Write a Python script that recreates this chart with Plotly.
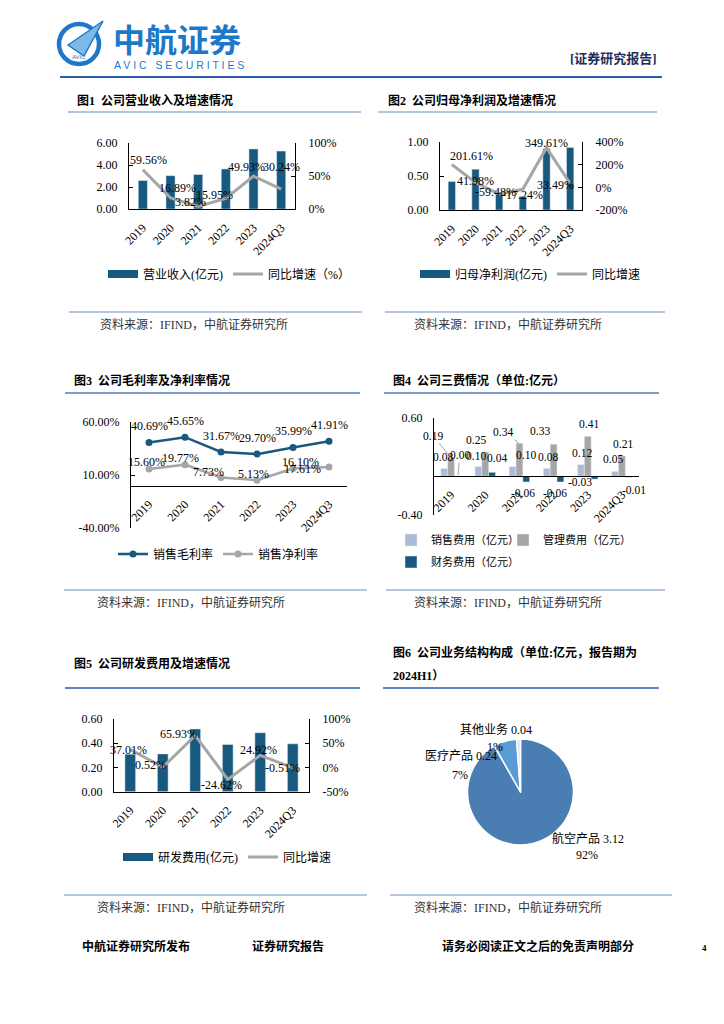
import plotly.graph_objects as go

W, H = 724, 1024
OFF = 8  # page body margin compensation


def fx(px):
    return (px - OFF) / W


def fy(py):
    return 1 - (py - OFF) / H


FONT = "Liberation Serif, Noto Sans CJK SC, serif"
CJK = "Noto Sans CJK SC, sans-serif"

DARK = "#185A7F"
GRAY = "#A6A6A6"
LIGHT = "#ADBCD4"
LOGO = "#1E78C8"

# ---------------- data ----------------
years = ["2019", "2020", "2021", "2022", "2023", "2024Q3"]

revenue = [2.59, 3.03, 3.14, 3.64, 5.46, 5.27]
revenue_growth = [59.56, 16.89, 3.82, 15.95, 49.93, 30.24]

net_profit = [0.42, 0.60, 0.24, 0.20, 0.90, 0.92]
net_profit_growth = [201.61, 41.98, -59.48, -17.24, 349.61, 33.49]

gross_margin = [40.69, 45.65, 31.67, 29.70, 35.99, 41.91]
net_margin = [15.60, 19.77, 7.73, 5.13, 16.10, 17.61]

selling_exp = [0.08, 0.10, 0.10, 0.08, 0.12, 0.05]
admin_exp = [0.19, 0.25, 0.34, 0.33, 0.41, 0.21]
finance_exp = [0.00, 0.04, -0.06, -0.06, -0.03, -0.01]

rd_exp = [0.31, 0.312, 0.518, 0.39, 0.487, 0.395]
rd_growth = [37.01, 0.52, 65.93, -24.62, 24.92, -0.51]

segments = ["航空产品", "医疗产品", "其他业务"]
segment_values = [3.12, 0.24, 0.04]

c1_left_vals = [0, 2, 4, 6]
c1_left_text = ["0.00", "2.00", "4.00", "6.00"]
c1_right_vals = [0, 50, 100]
c1_right_text = ["0%", "50%", "100%"]
c2_left_vals = [0, 0.5, 1]
c2_left_text = ["0.00", "0.50", "1.00"]
c2_right_vals = [-200, 0, 200, 400]
c2_right_text = ["-200%", "0%", "200%", "400%"]
c3_vals = [-40, 10, 60]
c3_text = ["-40.00%", "10.00%", "60.00%"]
c4_vals = [-0.4, 0.6]
c4_text = ["-0.40", "0.60"]
c5_left_vals = [0, 0.2, 0.4, 0.6]
c5_left_text = ["0.00", "0.20", "0.40", "0.60"]
c5_right_vals = [-50, 0, 50, 100]
c5_right_text = ["-50%", "0%", "50%", "100%"]

# ---------------- label offsets (style, px) ----------------
rev_shift = [(6, 10), (7, 10), (-8, 4), (-11, 3), (-7, 9), (0, 22)]
np_shift = [(20, 8), (0, 2), (-4, 2), (0, -6), (0, 5), (-15, -1)]
gm_shift = [(0, 16)] * 6
nm_shift = [(-3, 7), (-5, 7), (-13, 5), (-4, 6), (7, 7), (-27, -2)]
sell_shift = [(-1, 11), (-2, 11), (13, 12), (1, 11), (1, 12), (-2, 12)]
admin_shift = [(-18, 22), (-9, 12), (-16, 11), (-14, 13), (1, 12), (1, 12)]
fin_shift = [(2, 21), (5, 14), (-3, -11), (-5, -11), (-15, -3), (5, -13)]
admin_leader = [True, False, True, False, False, False]
fin_leader = [True, False, False, False, False, False]
no_leader = [False] * 6
rd_shift = [(-2, 0), (-12, 2), (-17, 2), (-6, -6), (-2, 5), (-10, 0)]
pie_label_pos = [(588, 838), (461, 756), (496, 729)]
pie_pct_pos = [(587, 855), (460, 775), (495, 747)]

fig = go.Figure()
annotations = []
shapes = []


def txt(x, y, text, size=12, xanchor="left", color="black", family=FONT, yanchor="middle"):
    annotations.append(dict(x=fx(x), y=fy(y), xref="paper", yref="paper", text=text,
                            showarrow=False, xanchor=xanchor, yanchor=yanchor,
                            font=dict(family=family, size=size, color=color)))


def hline(x0, x1, y, color, width=1.5):
    shapes.append(dict(type="line", xref="paper", yref="paper", x0=fx(x0), x1=fx(x1),
                       y0=fy(y), y1=fy(y), line=dict(color=color, width=width)))


def labels(xref, yref, xs, ys, texts, shifts, size=12, leaders=None):
    leaders = leaders or [False] * len(xs)
    for x, y, t, (dx, dy), ld in zip(xs, ys, texts, shifts, leaders):
        a = dict(x=x, y=y, xref=xref, yref=yref, text=t,
                 font=dict(family=FONT, size=size, color="black"))
        if ld:
            a.update(showarrow=True, arrowhead=0, arrowwidth=0.8, arrowcolor="#8C8C8C",
                     ax=dx, ay=-dy, standoff=1)
        else:
            a.update(showarrow=False, xshift=dx, yshift=dy)
        annotations.append(a)


pct = lambda v: f"{v:.2f}%"
idx = list(range(len(years)))

# ---------------- chart 1 ----------------
fig.add_trace(go.Bar(x=years, y=revenue, xaxis="x", yaxis="y", marker_color=DARK,
                     width=0.33, showlegend=False, name="营业收入(亿元)"))
fig.add_trace(go.Scatter(x=[None], y=[None], xaxis="x", yaxis="y", mode="lines",
                         line=dict(color=DARK, width=8), name="营业收入(亿元)", legend="legend"))
fig.add_trace(go.Scatter(x=years, y=revenue_growth, xaxis="x", yaxis="y2", mode="lines",
                         line=dict(color=GRAY, width=3), name="同比增速（%）", legend="legend"))
labels("x", "y2", idx, revenue_growth, [pct(v) for v in revenue_growth], rev_shift)

# ---------------- chart 2 ----------------
fig.add_trace(go.Bar(x=years, y=net_profit, xaxis="x2", yaxis="y3", marker_color=DARK,
                     width=0.31, showlegend=False, name="归母净利润(亿元)"))
fig.add_trace(go.Scatter(x=[None], y=[None], xaxis="x2", yaxis="y3", mode="lines",
                         line=dict(color=DARK, width=8), name="归母净利润(亿元)", legend="legend2"))
fig.add_trace(go.Scatter(x=years, y=net_profit_growth, xaxis="x2", yaxis="y4", mode="lines",
                         line=dict(color=GRAY, width=3), name="同比增速", legend="legend2"))
labels("x2", "y4", idx, net_profit_growth, [pct(v) for v in net_profit_growth], np_shift)

# ---------------- chart 3 ----------------
fig.add_trace(go.Scatter(x=years, y=gross_margin, xaxis="x3", yaxis="y5", mode="lines+markers",
                         line=dict(color=DARK, width=2.5), marker=dict(size=7, color=DARK),
                         name="销售毛利率", legend="legend3"))
fig.add_trace(go.Scatter(x=years, y=net_margin, xaxis="x3", yaxis="y5", mode="lines+markers",
                         line=dict(color=GRAY, width=2.5), marker=dict(size=7, color=GRAY),
                         name="销售净利率", legend="legend3"))
labels("x3", "y5", idx, gross_margin, [pct(v) for v in gross_margin], gm_shift)
labels("x3", "y5", idx, net_margin, [pct(v) for v in net_margin], nm_shift)

# ---------------- chart 4 ----------------
for vals, color, name, off, leg_id, sh, ld in [
    (selling_exp, LIGHT, "销售费用（亿元）", -0.3, "legend4", sell_shift, no_leader),
    (admin_exp, GRAY, "管理费用（亿元）", -0.1, "legend5", admin_shift, admin_leader),
    (finance_exp, DARK, "财务费用（亿元）", 0.1, "legend6", fin_shift, fin_leader),
]:
    fig.add_trace(go.Bar(x=years, y=vals, xaxis="x4", yaxis="y6", marker_color=color,
                         width=0.2, offset=off, name=name, legend=leg_id))
    labels("x4", "y6", [i + off + 0.1 for i in idx], vals,
           [f"{v:.2f}" for v in vals], sh, size=11.5, leaders=ld)

# ---------------- chart 5 ----------------
fig.add_trace(go.Bar(x=years, y=rd_exp, xaxis="x5", yaxis="y7", marker_color=DARK,
                     width=0.33, showlegend=False, name="研发费用(亿元)"))
fig.add_trace(go.Scatter(x=[None], y=[None], xaxis="x5", yaxis="y7", mode="lines",
                         line=dict(color=DARK, width=8), name="研发费用(亿元)", legend="legend7"))
fig.add_trace(go.Scatter(x=years, y=rd_growth, xaxis="x5", yaxis="y8", mode="lines",
                         line=dict(color=GRAY, width=3), name="同比增速", legend="legend7"))
labels("x5", "y8", idx, rd_growth, [pct(v) for v in rd_growth], rd_shift)

# ---------------- chart 6 (pie) ----------------
fig.add_trace(go.Pie(labels=segments, values=segment_values, sort=False, direction="clockwise",
                     rotation=0, textinfo="none", showlegend=False,
                     marker=dict(colors=["#4A7EB2", "#5B9BD5", "#D9E5F3"],
                                 line=dict(color="white", width=1.5)),
                     domain=dict(x=[fx(467.5), fx(573.5)], y=[fy(845), fy(739)])))
total = sum(segment_values)
for name, v, (lx, ly), (px, py) in zip(segments, segment_values, pie_label_pos, pie_pct_pos):
    txt(lx, ly, f"{name} {v:.2f}", size=12, xanchor="center")
    txt(px, py, f"{round(v / total * 100)}%", size=12, xanchor="center")

# ---------------- axes ----------------
tickfont = dict(family=FONT, size=12, color="black")
base_x = dict(type="category", showgrid=False, zeroline=False, showline=True, linecolor="black",
              linewidth=1, ticks="", tickangle=-45, tickfont=tickfont, range=[-0.5, 5.5],
              fixedrange=True, automargin=False, ticklabelstandoff=6)
base_y = dict(showgrid=False, zeroline=False, showline=True, linecolor="black", linewidth=1.2,
              ticks="inside", ticklen=4, tickcolor="black", tickfont=tickfont, fixedrange=True,
              automargin=False, ticklabelstandoff=8)
right_y = dict(base_y, ticklabelstandoff=10)

fig.update_layout(
    xaxis=dict(base_x, domain=[fx(129), fx(295)], anchor="y"),
    yaxis=dict(base_y, domain=[fy(209), fy(143)], range=[0, 6], tickvals=c1_left_vals,
               ticktext=c1_left_text, anchor="x"),
    yaxis2=dict(right_y, overlaying="y", side="right", anchor="x", range=[0, 100],
                tickvals=c1_right_vals, ticktext=c1_right_text),
    xaxis2=dict(base_x, domain=[fx(440), fx(582)], anchor="y3"),
    yaxis3=dict(base_y, domain=[fy(210), fy(142)], range=[0, 1], tickvals=c2_left_vals,
                ticktext=c2_left_text, anchor="x2"),
    yaxis4=dict(right_y, overlaying="y3", side="right", anchor="x2", range=[-200, 400],
                tickvals=c2_right_vals, ticktext=c2_right_text),
    xaxis3=dict(base_x, domain=[fx(131), fx(347)], anchor="free", position=fy(485.6)),
    yaxis5=dict(base_y, domain=[fy(528), fy(422)], range=[-40, 60], tickvals=c3_vals,
                ticktext=c3_text, anchor="x3"),
    xaxis4=dict(base_x, domain=[fx(434), fx(639)], anchor="free", position=fy(476.2)),
    yaxis6=dict(base_y, domain=[fy(515), fy(418)], range=[-0.4, 0.6], tickvals=c4_vals,
                ticktext=c4_text, anchor="x4"),
    xaxis5=dict(base_x, domain=[fx(114), fx(309)], anchor="y7"),
    yaxis7=dict(base_y, domain=[fy(791.7), fy(719)], range=[0, 0.6], tickvals=c5_left_vals,
                ticktext=c5_left_text, anchor="x5"),
    yaxis8=dict(right_y, overlaying="y7", side="right", anchor="x5", range=[-50, 100],
                tickvals=c5_right_vals, ticktext=c5_right_text),
)


def leg(x, y, size=12):
    return dict(orientation="h", x=fx(x), y=fy(y), xanchor="left", yanchor="middle",
                font=dict(family=FONT, size=size, color="black"), bgcolor="rgba(0,0,0,0)",
                itemwidth=30, itemclick=False, itemdoubleclick=False)


fig.update_layout(
    legend=leg(103, 274),
    legend2=leg(415, 274),
    legend3=leg(113, 554),
    legend4=leg(391, 540, 11),
    legend5=leg(503, 540, 11),
    legend6=leg(391, 562, 11),
    legend7=leg(118, 857),
)

# ---------------- page furniture ----------------
shapes.append(dict(type="circle", xref="paper", yref="paper", x0=fx(59), x1=fx(99),
                   y0=fy(64), y1=fy(24), line=dict(color=LOGO, width=4.5)))
shapes.append(dict(type="path", xref="paper", yref="paper",
                   path=f"M {fx(68)},{fy(45)} L {fx(103)},{fy(21)} L {fx(84)},{fy(56)} Z",
                   fillcolor="#7DB9E8", line=dict(color=LOGO, width=1.5)))
txt(79, 57, "AVIC", size=6, xanchor="center", color=LOGO, family="Liberation Sans")
txt(111, 38, "<b>中航证券</b>", size=32, color=LOGO, family=CJK)
txt(112, 65, "A V I C   S E C U R I T I E S", size=10.5, color=LOGO, family="Liberation Sans")
txt(659, 58, "<b>[证券研究报告]</b>", size=13, xanchor="right", color="#1C2E5A")
hline(60, 662, 77, "#2A5CAA", 1.8)

txt(75, 100, "<b>图1  公司营业收入及增速情况</b>")
hline(68, 361, 112, "#9AB0CF")
txt(386, 100, "<b>图2  公司归母净利润及增速情况</b>")
hline(378, 657, 112, "#9AB0CF")
txt(72, 380, "<b>图3  公司毛利率及净利率情况</b>")
hline(65, 360, 393, "#4F7DB8")
txt(391, 380, "<b>图4  公司三费情况（单位:亿元）</b>")
hline(384, 659, 393, "#4F7DB8")
txt(72, 663, "<b>图5  公司研发费用及增速情况</b>")
hline(65, 360, 688, "#2E5EAA")
txt(391, 652, "<b>图6  公司业务结构构成（单位:亿元，报告期为</b>")
txt(391, 676, "<b>2024H1）</b>")
hline(383, 659, 688, "#2E5EAA")

SRC = "资料来源：IFIND，中航证券研究所"
SRC_LINE = "#9DB3D3"
hline(69, 362, 312, SRC_LINE)
txt(98, 324, SRC, color="#333333")
hline(385, 665, 312, SRC_LINE)
txt(412, 324, SRC, color="#333333")
hline(64, 367, 590, SRC_LINE)
txt(95, 602, SRC, color="#333333")
hline(386, 665, 590, SRC_LINE)
txt(412, 602, SRC, color="#333333")
hline(64, 367, 895, SRC_LINE)
txt(95, 907, SRC, color="#333333")
hline(390, 672, 895, SRC_LINE)
txt(412, 907, SRC, color="#333333")

txt(80, 946, "<b>中航证券研究所发布</b>")
txt(250, 946, "<b>证券研究报告</b>")
txt(440, 946, "<b>请务必阅读正文之后的免责声明部分</b>")
txt(700, 948, "<b>4</b>", size=9)

fig.update_layout(
    width=W, height=H, autosize=False,
    margin=dict(l=0, r=0, t=0, b=0, pad=0, autoexpand=False),
    paper_bgcolor="white", plot_bgcolor="rgba(0,0,0,0)",
    font=dict(family=FONT, size=12, color="black"),
    annotations=annotations, shapes=shapes,
    hovermode=False,
)

fig.write_html("out.html")
